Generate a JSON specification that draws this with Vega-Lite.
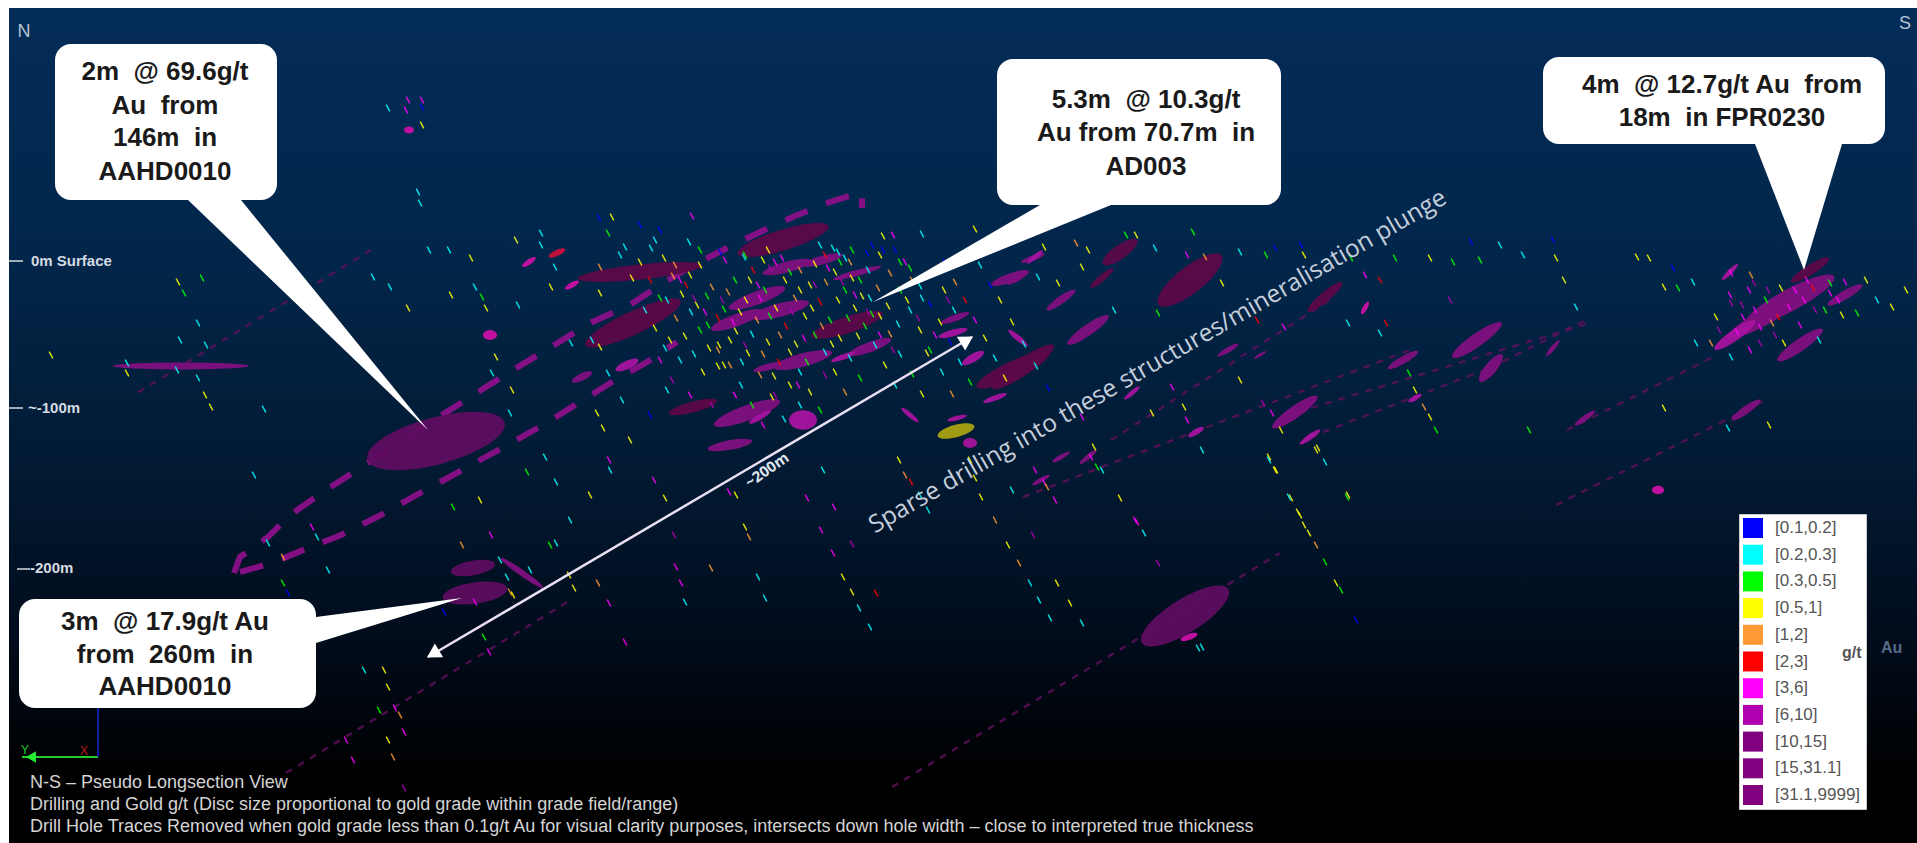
{"$schema":"https://vega.github.io/schema/vega-lite/v6.json","width":1917,"height":843,"padding":0,"autosize":{"type":"none"},"background":"white","config":{"view":{"stroke":null}},
"datasets":{
"frame":[{"x":9,"x2":1917,"y":8,"y2":843}],
"traces":[{"x":371,"y":250,"x2":137,"y2":393},{"x":892,"y":787,"x2":1280,"y2":553},{"x":286,"y":773,"x2":571,"y2":600},{"x":1556,"y":505,"x2":1766,"y2":400},{"x":1567,"y":430,"x2":1713,"y2":357},{"x":1023,"y":497,"x2":1410,"y2":350},{"x":1111,"y":440,"x2":1330,"y2":300},{"x":1298,"y":412,"x2":1590,"y2":323},{"x":1310,"y":437,"x2":1503,"y2":363},{"x":1490,"y":368,"x2":1590,"y2":318}],
"plunge":[{"side":"upper","seq":1,"x":234,"y":573},{"side":"upper","seq":2,"x":240,"y":557},{"side":"upper","seq":3,"x":268,"y":537},{"side":"upper","seq":4,"x":290,"y":515},{"side":"upper","seq":5,"x":326,"y":490},{"side":"upper","seq":6,"x":357,"y":470},{"side":"upper","seq":7,"x":453,"y":408},{"side":"upper","seq":8,"x":486,"y":387},{"side":"upper","seq":9,"x":518,"y":367},{"side":"upper","seq":10,"x":551,"y":347},{"side":"upper","seq":11,"x":590,"y":323},{"side":"upper","seq":12,"x":630,"y":305},{"side":"upper","seq":13,"x":660,"y":285},{"side":"upper","seq":14,"x":690,"y":267},{"side":"upper","seq":15,"x":727,"y":248},{"side":"upper","seq":16,"x":760,"y":232},{"side":"upper","seq":17,"x":795,"y":216},{"side":"upper","seq":18,"x":830,"y":202},{"side":"upper","seq":19,"x":862,"y":192},{"side":"upper","seq":20,"x":862,"y":208},{"side":"lower","seq":1,"x":240,"y":572},{"side":"lower","seq":2,"x":272,"y":563},{"side":"lower","seq":3,"x":308,"y":548},{"side":"lower","seq":4,"x":341,"y":535},{"side":"lower","seq":5,"x":377,"y":517},{"side":"lower","seq":6,"x":411,"y":498},{"side":"lower","seq":7,"x":444,"y":480},{"side":"lower","seq":8,"x":480,"y":460},{"side":"lower","seq":9,"x":513,"y":442},{"side":"lower","seq":10,"x":548,"y":422},{"side":"lower","seq":11,"x":580,"y":402},{"side":"lower","seq":12,"x":612,"y":382},{"side":"lower","seq":13,"x":647,"y":362},{"side":"lower","seq":14,"x":677,"y":342}],
"discs":[
{"x":436,"y":441,"len":142,"form":"wide","tilt":-15,"tone":"dark"},{"x":1185,"y":616,"len":102,"form":"wide","tilt":-32,"tone":"dark"},{"x":475,"y":593,"len":65,"form":"wide","tilt":-8,"tone":"dark"},{"x":473,"y":568,"len":45,"form":"wide","tilt":-10,"tone":"dark"},{"x":522,"y":573,"len":52,"form":"thin","tilt":35,"tone":"purple"},{"x":956,"y":431,"len":38,"form":"wide","tilt":-15,"tone":"olive"},
{"x":181,"y":366,"len":136,"form":"hair","tilt":0,"tone":"purple"},{"x":783,"y":240,"len":95,"form":"flat","tilt":-17,"tone":"maroon"},{"x":640,"y":272,"len":125,"form":"thin","tilt":-6,"tone":"maroon"},{"x":633,"y":323,"len":105,"form":"flat","tilt":-25,"tone":"maroon"},{"x":847,"y":325,"len":75,"form":"flat","tilt":-18,"tone":"maroon"},{"x":1013,"y":370,"len":80,"form":"flat","tilt":-25,"tone":"maroon"},{"x":1190,"y":280,"len":80,"form":"wide","tilt":-38,"tone":"maroon"},{"x":1120,"y":252,"len":42,"form":"wide","tilt":-35,"tone":"maroon"},{"x":1023,"y":367,"len":75,"form":"flat","tilt":-35,"tone":"maroon"},
{"x":757,"y":298,"len":60,"form":"flat","tilt":-20,"tone":"purple"},{"x":737,"y":320,"len":55,"form":"flat","tilt":-20,"tone":"purple"},{"x":787,"y":267,"len":50,"form":"flat","tilt":-15,"tone":"purple"},{"x":823,"y":260,"len":40,"form":"flat","tilt":-15,"tone":"purple"},{"x":857,"y":273,"len":50,"form":"thin","tilt":-15,"tone":"purple"},{"x":780,"y":310,"len":60,"form":"flat","tilt":-15,"tone":"purple"},{"x":803,"y":360,"len":60,"form":"flat","tilt":-15,"tone":"purple"},{"x":803,"y":420,"len":28,"form":"round","tilt":0,"tone":"magenta"},{"x":747,"y":413,"len":70,"form":"flat","tilt":-20,"tone":"purple"},{"x":693,"y":407,"len":50,"form":"flat","tilt":-15,"tone":"maroon"},{"x":730,"y":445,"len":45,"form":"flat","tilt":-10,"tone":"purple"},{"x":760,"y":417,"len":25,"form":"flat","tilt":-30,"tone":"magenta"},{"x":582,"y":377,"len":22,"form":"wide","tilt":-25,"tone":"purple"},{"x":627,"y":365,"len":25,"form":"wide","tilt":-25,"tone":"magenta"},{"x":953,"y":333,"len":30,"form":"flat","tilt":-15,"tone":"magenta"},{"x":955,"y":318,"len":30,"form":"flat","tilt":-20,"tone":"purple"},{"x":995,"y":398,"len":25,"form":"flat","tilt":-20,"tone":"magenta"},{"x":957,"y":418,"len":20,"form":"flat","tilt":-15,"tone":"magenta"},{"x":1010,"y":278,"len":40,"form":"flat","tilt":-20,"tone":"purple"},{"x":1033,"y":258,"len":25,"form":"flat","tilt":-20,"tone":"purple"},{"x":970,"y":443,"len":14,"form":"round","tilt":0,"tone":"magenta"},{"x":870,"y":347,"len":45,"form":"flat","tilt":-20,"tone":"purple"},{"x":843,"y":357,"len":25,"form":"flat","tilt":-20,"tone":"magenta"},{"x":768,"y":367,"len":30,"form":"flat","tilt":-15,"tone":"purple"},{"x":973,"y":358,"len":25,"form":"wide","tilt":-30,"tone":"magenta"},{"x":1018,"y":338,"len":25,"form":"flat","tilt":40,"tone":"magenta"},{"x":910,"y":415,"len":22,"form":"flat","tilt":40,"tone":"magenta"},{"x":557,"y":253,"len":18,"form":"wide","tilt":-25,"tone":"red"},{"x":529,"y":262,"len":16,"form":"wide","tilt":-35,"tone":"hot"},{"x":572,"y":285,"len":16,"form":"wide","tilt":-30,"tone":"hot"},{"x":490,"y":335,"len":14,"form":"round","tilt":0,"tone":"hot"},{"x":409,"y":130,"len":10,"form":"round","tilt":0,"tone":"hot"},
{"x":1102,"y":278,"len":30,"form":"flat","tilt":-40,"tone":"maroon"},{"x":1018,"y":278,"len":25,"form":"flat","tilt":-30,"tone":"purple"},{"x":1035,"y":257,"len":20,"form":"flat","tilt":-40,"tone":"magenta"},{"x":1061,"y":300,"len":35,"form":"flat","tilt":-35,"tone":"purple"},{"x":1088,"y":330,"len":50,"form":"flat","tilt":-35,"tone":"purple"},{"x":1325,"y":297,"len":45,"form":"flat","tilt":-40,"tone":"maroon"},{"x":1365,"y":308,"len":14,"form":"wide","tilt":-60,"tone":"hot"},{"x":1228,"y":350,"len":24,"form":"flat","tilt":-30,"tone":"purple"},{"x":1260,"y":355,"len":14,"form":"flat","tilt":-30,"tone":"purple"},{"x":1477,"y":340,"len":60,"form":"flat","tilt":-35,"tone":"purple"},{"x":1403,"y":360,"len":35,"form":"flat","tilt":-30,"tone":"purple"},{"x":1491,"y":368,"len":35,"form":"wide","tilt":-50,"tone":"purple"},{"x":1553,"y":348,"len":20,"form":"flat","tilt":-50,"tone":"purple"},{"x":1295,"y":412,"len":55,"form":"flat","tilt":-35,"tone":"purple"},{"x":1310,"y":437,"len":25,"form":"flat","tilt":-35,"tone":"magenta"},{"x":1415,"y":398,"len":15,"form":"wide","tilt":-30,"tone":"magenta"},{"x":1585,"y":418,"len":25,"form":"flat","tilt":-35,"tone":"purple"},{"x":1746,"y":410,"len":35,"form":"flat","tilt":-35,"tone":"purple"},{"x":1658,"y":490,"len":12,"form":"round","tilt":0,"tone":"hot"},{"x":1196,"y":432,"len":18,"form":"wide","tilt":-30,"tone":"magenta"},{"x":1132,"y":393,"len":20,"form":"flat","tilt":-40,"tone":"magenta"},{"x":1061,"y":457,"len":20,"form":"flat","tilt":-30,"tone":"purple"},{"x":1088,"y":457,"len":22,"form":"flat","tilt":-40,"tone":"purple"},{"x":1041,"y":480,"len":20,"form":"flat","tilt":-30,"tone":"purple"},
{"x":1810,"y":270,"len":45,"form":"flat","tilt":-32,"tone":"maroon"},{"x":1790,"y":300,"len":100,"form":"flat","tilt":-28,"tone":"purple"},{"x":1760,"y":320,"len":70,"form":"flat","tilt":-28,"tone":"purple"},{"x":1800,"y":345,"len":55,"form":"flat","tilt":-35,"tone":"purple"},{"x":1735,"y":335,"len":50,"form":"flat","tilt":-35,"tone":"magenta"},{"x":1845,"y":295,"len":40,"form":"flat","tilt":-30,"tone":"purple"},{"x":1730,"y":272,"len":22,"form":"flat","tilt":-45,"tone":"magenta"},{"x":1189,"y":637,"len":18,"form":"wide","tilt":-20,"tone":"hot"}
],
"ticks":[
{"x":408,"y":100,"g":"[3,6]"},{"x":406,"y":110,"g":"[3,6]"},{"x":422,"y":100,"g":"[3,6]"},{"x":422,"y":107,"g":"[0.1,0.2]"},{"x":422,"y":125,"g":"[0.5,1]"},{"x":388,"y":108,"g":"[0.2,0.3]"},{"x":178,"y":282,"g":"[0.5,1]"},{"x":184,"y":293,"g":"[0.3,0.5]"},{"x":202,"y":278,"g":"[0.3,0.5]"},{"x":51,"y":355,"g":"[0.5,1]"},{"x":127,"y":363,"g":"[0.2,0.3]"},{"x":127,"y":373,"g":"[0.5,1]"},{"x":177,"y":370,"g":"[0.2,0.3]"},{"x":198,"y":378,"g":"[0.2,0.3]"},{"x":205,"y":395,"g":"[0.5,1]"},{"x":211,"y":407,"g":"[0.5,1]"},{"x":264,"y":409,"g":"[0.2,0.3]"},{"x":198,"y":323,"g":"[0.2,0.3]"},{"x":180,"y":340,"g":"[0.2,0.3]"},{"x":206,"y":345,"g":"[0.2,0.3]"},{"x":408,"y":308,"g":"[0.5,1]"},{"x":451,"y":295,"g":"[0.5,1]"},{"x":482,"y":297,"g":"[0.3,0.5]"},{"x":486,"y":308,"g":"[0.5,1]"},{"x":475,"y":287,"g":"[0.2,0.3]"},{"x":471,"y":258,"g":"[0.5,1]"},{"x":429,"y":250,"g":"[0.2,0.3]"},{"x":449,"y":250,"g":"[0.2,0.3]"},{"x":418,"y":192,"g":"[0.2,0.3]"},{"x":420,"y":203,"g":"[0.2,0.3]"},{"x":373,"y":277,"g":"[0.2,0.3]"},{"x":390,"y":287,"g":"[0.2,0.3]"},{"x":612,"y":217,"g":"[0.5,1]"},{"x":541,"y":233,"g":"[0.2,0.3]"},{"x":541,"y":245,"g":"[0.2,0.3]"},{"x":516,"y":240,"g":"[0.5,1]"},{"x":608,"y":233,"g":"[0.3,0.5]"},{"x":625,"y":247,"g":"[0.2,0.3]"},{"x":600,"y":293,"g":"[0.5,1]"},{"x":600,"y":267,"g":"[1,2]"},{"x":551,"y":287,"g":"[0.5,1]"},{"x":555,"y":267,"g":"[0.2,0.3]"},{"x":518,"y":305,"g":"[0.2,0.3]"},{"x":496,"y":357,"g":"[0.5,1]"},{"x":492,"y":373,"g":"[0.2,0.3]"},{"x":592,"y":340,"g":"[0.2,0.3]"},{"x":600,"y":347,"g":"[0.5,1]"},{"x":608,"y":373,"g":"[0.2,0.3]"},{"x":622,"y":400,"g":"[0.2,0.3]"},{"x":512,"y":390,"g":"[0.5,1]"},{"x":510,"y":413,"g":"[0.2,0.3]"},{"x":571,"y":343,"g":"[0.2,0.3]"},
{"x":599,"y":218,"g":"[0.1,0.2]"},{"x":651,"y":248,"g":"[0.2,0.3]"},{"x":689,"y":242,"g":"[0.2,0.3]"},{"x":700,"y":250,"g":"[0.3,0.5]"},{"x":692,"y":216,"g":"[3,6]"},{"x":744,"y":257,"g":"[0.2,0.3]"},{"x":763,"y":260,"g":"[0.5,1]"},{"x":753,"y":270,"g":"[2,3]"},{"x":833,"y":248,"g":"[0.2,0.3]"},{"x":845,"y":258,"g":"[0.2,0.3]"},{"x":883,"y":236,"g":"[0.5,1]"},{"x":893,"y":235,"g":"[3,6]"},{"x":922,"y":234,"g":"[0.2,0.3]"},{"x":975,"y":229,"g":"[0.5,1]"},{"x":907,"y":300,"g":"[0.5,1]"},{"x":927,"y":353,"g":"[0.5,1]"},{"x":883,"y":250,"g":"[0.1,0.2]"},{"x":867,"y":253,"g":"[0.1,0.2]"},
{"x":655,"y":240,"g":"[0.2,0.3]"},{"x":664,"y":258,"g":"[0.5,1]"},{"x":673,"y":276,"g":"[1,2]"},{"x":682,"y":294,"g":"[0.5,1]"},{"x":691,"y":312,"g":"[0.2,0.3]"},{"x":700,"y":330,"g":"[0.3,0.5]"},{"x":709,"y":348,"g":"[0.5,1]"},{"x":718,"y":366,"g":"[0.5,1]"},{"x":675,"y":265,"g":"[1,2]"},{"x":686,"y":285,"g":"[2,3]"},{"x":697,"y":305,"g":"[0.5,1]"},{"x":708,"y":325,"g":"[0.3,0.5]"},{"x":719,"y":345,"g":"[0.5,1]"},{"x":730,"y":365,"g":"[1,2]"},{"x":741,"y":385,"g":"[0.2,0.3]"},{"x":752,"y":405,"g":"[0.3,0.5]"},{"x":763,"y":425,"g":"[3,6]"},{"x":700,"y":265,"g":"[0.5,1]"},{"x":712,"y":287,"g":"[1,2]"},{"x":724,"y":309,"g":"[0.3,0.5]"},{"x":736,"y":331,"g":"[0.5,1]"},{"x":748,"y":353,"g":"[0.5,1]"},{"x":760,"y":375,"g":"[1,2]"},{"x":772,"y":397,"g":"[0.5,1]"},{"x":784,"y":419,"g":"[0.2,0.3]"},{"x":725,"y":260,"g":"[3,6]"},{"x":735,"y":280,"g":"[0.3,0.5]"},{"x":746,"y":300,"g":"[0.5,1]"},{"x":757,"y":320,"g":"[1,2]"},{"x":768,"y":342,"g":"[0.5,1]"},{"x":779,"y":362,"g":"[2,3]"},{"x":790,"y":385,"g":"[0.5,1]"},{"x":800,"y":405,"g":"[0.2,0.3]"},{"x":750,"y":280,"g":"[0.5,1]"},{"x":760,"y":298,"g":"[3,6]"},{"x":770,"y":316,"g":"[0.3,0.5]"},{"x":780,"y":335,"g":"[1,2]"},{"x":790,"y":352,"g":"[0.5,1]"},{"x":800,"y":372,"g":"[0.2,0.3]"},{"x":810,"y":392,"g":"[0.5,1]"},{"x":820,"y":410,"g":"[0.3,0.5]"},{"x":775,"y":262,"g":"[3,6]"},{"x":785,"y":280,"g":"[0.5,1]"},{"x":795,"y":298,"g":"[1,2]"},{"x":805,"y":316,"g":"[0.5,1]"},{"x":815,"y":335,"g":"[0.3,0.5]"},{"x":825,"y":352,"g":"[0.2,0.3]"},{"x":835,"y":372,"g":"[0.5,1]"},{"x":845,"y":392,"g":"[1,2]"},{"x":800,"y":270,"g":"[1,2]"},{"x":810,"y":285,"g":"[0.5,1]"},{"x":820,"y":302,"g":"[2,3]"},{"x":830,"y":320,"g":"[0.3,0.5]"},{"x":840,"y":338,"g":"[0.5,1]"},{"x":850,"y":358,"g":"[0.2,0.3]"},{"x":860,"y":378,"g":"[0.3,0.5]"},{"x":825,"y":255,"g":"[2,3]"},{"x":835,"y":272,"g":"[0.5,1]"},{"x":845,"y":290,"g":"[0.3,0.5]"},{"x":855,"y":308,"g":"[0.5,1]"},{"x":865,"y":326,"g":"[0.3,0.5]"},{"x":875,"y":345,"g":"[0.2,0.3]"},{"x":885,"y":365,"g":"[0.5,1]"},{"x":895,"y":385,"g":"[0.2,0.3]"},{"x":850,"y":262,"g":"[1,2]"},{"x":860,"y":280,"g":"[0.3,0.5]"},{"x":870,"y":298,"g":"[0.2,0.3]"},{"x":880,"y":316,"g":"[0.5,1]"},{"x":890,"y":334,"g":"[1,2]"},{"x":900,"y":354,"g":"[0.2,0.3]"},{"x":912,"y":374,"g":"[0.3,0.5]"},{"x":922,"y":394,"g":"[0.5,1]"},{"x":880,"y":255,"g":"[0.5,1]"},{"x":890,"y":273,"g":"[1,2]"},{"x":900,"y":290,"g":"[0.3,0.5]"},{"x":910,"y":310,"g":"[0.2,0.3]"},{"x":920,"y":330,"g":"[0.5,1]"},{"x":930,"y":350,"g":"[0.3,0.5]"},{"x":942,"y":372,"g":"[0.2,0.3]"},{"x":952,"y":394,"g":"[1,2]"},{"x":910,"y":268,"g":"[0.3,0.5]"},{"x":920,"y":286,"g":"[0.2,0.3]"},{"x":930,"y":304,"g":"[0.1,0.2]"},{"x":940,"y":322,"g":"[0.5,1]"},{"x":950,"y":342,"g":"[0.1,0.2]"},{"x":960,"y":362,"g":"[0.2,0.3]"},{"x":970,"y":382,"g":"[0.3,0.5]"},{"x":945,"y":262,"g":"[0.1,0.2]"},{"x":955,"y":282,"g":"[1,2]"},{"x":965,"y":300,"g":"[2,3]"},{"x":975,"y":320,"g":"[3,6]"},{"x":985,"y":338,"g":"[0.5,1]"},{"x":995,"y":358,"g":"[0.2,0.3]"},{"x":1005,"y":378,"g":"[0.5,1]"},{"x":980,"y":265,"g":"[0.2,0.3]"},{"x":990,"y":285,"g":"[0.1,0.2]"},{"x":1000,"y":300,"g":"[0.5,1]"},{"x":1012,"y":322,"g":"[0.5,1]"},{"x":1024,"y":344,"g":"[0.2,0.3]"},{"x":1036,"y":366,"g":"[0.2,0.3]"},{"x":1048,"y":388,"g":"[0.1,0.2]"},
{"x":667,"y":300,"g":"[0.2,0.3]"},{"x":676,"y":318,"g":"[1,2]"},{"x":685,"y":336,"g":"[0.5,1]"},{"x":694,"y":354,"g":"[0.2,0.3]"},{"x":703,"y":372,"g":"[0.5,1]"},{"x":690,"y":275,"g":"[0.5,1]"},{"x":707,"y":296,"g":"[0.3,0.5]"},{"x":718,"y":318,"g":"[2,3]"},{"x":730,"y":340,"g":"[0.5,1]"},{"x":742,"y":362,"g":"[0.2,0.3]"},{"x":728,"y":292,"g":"[1,2]"},{"x":740,"y":312,"g":"[0.5,1]"},{"x":752,"y":334,"g":"[0.2,0.3]"},{"x":763,"y":354,"g":"[1,2]"},{"x":774,"y":376,"g":"[0.5,1]"},{"x":765,"y":290,"g":"[0.3,0.5]"},{"x":776,"y":308,"g":"[0.5,1]"},{"x":786,"y":326,"g":"[2,3]"},{"x":796,"y":344,"g":"[0.5,1]"},{"x":807,"y":362,"g":"[0.3,0.5]"},{"x":790,"y":272,"g":"[0.3,0.5]"},{"x":800,"y":290,"g":"[0.5,1]"},{"x":812,"y":308,"g":"[0.5,1]"},{"x":822,"y":326,"g":"[1,2]"},{"x":832,"y":344,"g":"[0.5,1]"},{"x":815,"y":264,"g":"[0.5,1]"},{"x":826,"y":282,"g":"[1,2]"},{"x":838,"y":300,"g":"[0.5,1]"},{"x":848,"y":318,"g":"[0.3,0.5]"},{"x":858,"y":336,"g":"[0.5,1]"},{"x":840,"y":262,"g":"[0.3,0.5]"},{"x":852,"y":278,"g":"[0.5,1]"},{"x":862,"y":296,"g":"[0.5,1]"},{"x":872,"y":314,"g":"[0.3,0.5]"},{"x":868,"y":270,"g":"[0.2,0.3]"},{"x":878,"y":288,"g":"[1,2]"},{"x":888,"y":306,"g":"[0.5,1]"},{"x":898,"y":324,"g":"[0.2,0.3]"},{"x":900,"y":262,"g":"[0.3,0.5]"},{"x":912,"y":280,"g":"[1,2]"},{"x":922,"y":298,"g":"[0.2,0.3]"},{"x":934,"y":272,"g":"[1,2]"},{"x":944,"y":290,"g":"[0.5,1]"},{"x":954,"y":310,"g":"[0.2,0.3]"},{"x":640,"y":262,"g":"[0.5,1]"},{"x":650,"y":280,"g":"[2,3]"},{"x":660,"y":298,"g":"[0.3,0.5]"},{"x":670,"y":340,"g":"[0.5,1]"},{"x":680,"y":360,"g":"[0.2,0.3]"},{"x":620,"y":255,"g":"[0.2,0.3]"},{"x":632,"y":278,"g":"[0.5,1]"},{"x":645,"y":310,"g":"[0.2,0.3]"},{"x":655,"y":328,"g":"[0.5,1]"},{"x":665,"y":348,"g":"[0.2,0.3]"},
{"x":680,"y":280,"g":"[3,6]"},{"x":694,"y":298,"g":"[6,10]"},{"x":705,"y":312,"g":"[3,6]"},{"x":722,"y":300,"g":"[6,10]"},{"x":733,"y":322,"g":"[3,6]"},{"x":745,"y":345,"g":"[6,10]"},{"x":758,"y":285,"g":"[3,6]"},{"x":770,"y":268,"g":"[6,10]"},{"x":782,"y":258,"g":"[3,6]"},{"x":792,"y":312,"g":"[6,10]"},{"x":804,"y":338,"g":"[3,6]"},{"x":815,"y":285,"g":"[6,10]"},{"x":828,"y":268,"g":"[3,6]"},{"x":842,"y":282,"g":"[6,10]"},{"x":855,"y":295,"g":"[3,6]"},{"x":868,"y":312,"g":"[6,10]"},{"x":880,"y":335,"g":"[3,6]"},{"x":893,"y":350,"g":"[6,10]"},{"x":905,"y":262,"g":"[3,6]"},{"x":918,"y":318,"g":"[6,10]"},{"x":935,"y":335,"g":"[3,6]"},{"x":948,"y":300,"g":"[6,10]"},{"x":660,"y":360,"g":"[3,6]"},{"x":672,"y":380,"g":"[6,10]"},{"x":690,"y":395,"g":"[3,6]"},{"x":712,"y":405,"g":"[6,10]"},{"x":735,"y":395,"g":"[3,6]"},{"x":775,"y":395,"g":"[6,10]"},{"x":798,"y":385,"g":"[3,6]"},{"x":825,"y":375,"g":"[6,10]"},{"x":745,"y":255,"g":"[0.3,0.5]"},{"x":768,"y":250,"g":"[0.5,1]"},{"x":820,"y":245,"g":"[0.2,0.3]"},{"x":838,"y":252,"g":"[0.2,0.3]"},{"x":852,"y":250,"g":"[0.3,0.5]"},{"x":872,"y":245,"g":"[0.1,0.2]"},{"x":895,"y":250,"g":"[0.1,0.2]"},{"x":720,"y":252,"g":"[0.1,0.2]"},{"x":660,"y":230,"g":"[0.1,0.2]"},{"x":640,"y":225,"g":"[0.1,0.2]"},{"x":1730,"y":295,"g":"[3,6]"},{"x":1742,"y":305,"g":"[6,10]"},{"x":1755,"y":310,"g":"[3,6]"},{"x":1768,"y":290,"g":"[6,10]"},{"x":1795,"y":290,"g":"[3,6]"},{"x":1815,"y":310,"g":"[6,10]"},{"x":1800,"y":325,"g":"[3,6]"},{"x":1775,"y":335,"g":"[6,10]"},{"x":1750,"y":350,"g":"[3,6]"},{"x":1838,"y":300,"g":"[3,6]"},
{"x":718,"y":350,"g":"[1,2]"},{"x":724,"y":365,"g":"[0.5,1]"},{"x":597,"y":413,"g":"[0.5,1]"},{"x":603,"y":428,"g":"[0.5,1]"},{"x":510,"y":592,"g":"[1,2]"},{"x":530,"y":570,"g":"[0.2,0.3]"},{"x":550,"y":545,"g":"[0.3,0.5]"},{"x":570,"y":520,"g":"[0.2,0.3]"},{"x":590,"y":495,"g":"[0.5,1]"},{"x":610,"y":470,"g":"[0.2,0.3]"},{"x":630,"y":440,"g":"[0.5,1]"},{"x":650,"y":415,"g":"[0.1,0.2]"},{"x":667,"y":390,"g":"[0.2,0.3]"},
{"x":899,"y":460,"g":"[0.5,1]"},{"x":905,"y":475,"g":"[1,2]"},{"x":911,"y":482,"g":"[2,3]"},{"x":920,"y":495,"g":"[0.2,0.3]"},{"x":928,"y":510,"g":"[0.2,0.3]"},{"x":970,"y":460,"g":"[0.5,1]"},{"x":975,"y":478,"g":"[0.5,1]"},{"x":981,"y":497,"g":"[0.5,1]"},{"x":995,"y":520,"g":"[1,2]"},{"x":1008,"y":545,"g":"[0.5,1]"},{"x":1019,"y":563,"g":"[1,2]"},{"x":1030,"y":583,"g":"[0.2,0.3]"},{"x":1039,"y":600,"g":"[0.2,0.3]"},{"x":1050,"y":618,"g":"[0.2,0.3]"},{"x":1057,"y":583,"g":"[0.5,1]"},{"x":1070,"y":603,"g":"[0.5,1]"},{"x":1082,"y":623,"g":"[0.2,0.3]"},{"x":1035,"y":470,"g":"[3,6]"},{"x":1044,"y":482,"g":"[3,6]"},{"x":1055,"y":500,"g":"[3,6]"},{"x":1091,"y":457,"g":"[3,6]"},{"x":1097,"y":467,"g":"[0.3,0.5]"},{"x":1120,"y":498,"g":"[0.5,1]"},{"x":1135,"y":520,"g":"[3,6]"},{"x":1144,"y":533,"g":"[0.2,0.3]"},{"x":1158,"y":563,"g":"[6,10]"},{"x":1269,"y":457,"g":"[0.5,1]"},{"x":1276,"y":470,"g":"[0.5,1]"},{"x":1291,"y":498,"g":"[0.5,1]"},{"x":1300,"y":515,"g":"[0.5,1]"},{"x":1309,"y":533,"g":"[0.5,1]"},{"x":1316,"y":545,"g":"[1,2]"},{"x":1325,"y":562,"g":"[0.3,0.5]"},{"x":1336,"y":583,"g":"[0.5,1]"},{"x":1341,"y":590,"g":"[0.3,0.5]"},{"x":1347,"y":497,"g":"[0.3,0.5]"},{"x":1356,"y":620,"g":"[0.1,0.2]"},{"x":1318,"y":448,"g":"[0.5,1]"},{"x":1325,"y":462,"g":"[0.2,0.3]"},{"x":807,"y":498,"g":"[3,6]"},{"x":821,"y":530,"g":"[3,6]"},{"x":833,"y":553,"g":"[3,6]"},{"x":852,"y":544,"g":"[6,10]"},{"x":834,"y":507,"g":"[3,6]"},{"x":843,"y":577,"g":"[0.5,1]"},{"x":852,"y":592,"g":"[0.5,1]"},{"x":876,"y":593,"g":"[2,3]"},{"x":859,"y":608,"g":"[0.2,0.3]"},{"x":870,"y":627,"g":"[0.2,0.3]"},{"x":758,"y":577,"g":"[0.2,0.3]"},{"x":765,"y":598,"g":"[0.2,0.3]"},{"x":711,"y":568,"g":"[1,2]"},{"x":749,"y":537,"g":"[1,2]"},{"x":745,"y":527,"g":"[0.5,1]"},{"x":729,"y":492,"g":"[3,6]"},{"x":736,"y":495,"g":"[0.5,1]"},{"x":823,"y":470,"g":"[0.2,0.3]"},{"x":1198,"y":648,"g":"[0.2,0.3]"},{"x":1202,"y":647,"g":"[0.2,0.3]"},{"x":1033,"y":535,"g":"[6,10]"},
{"x":1553,"y":240,"g":"[0.1,0.2]"},{"x":1556,"y":258,"g":"[0.5,1]"},{"x":1564,"y":280,"g":"[0.5,1]"},{"x":1576,"y":307,"g":"[0.2,0.3]"},{"x":1395,"y":258,"g":"[0.3,0.5]"},{"x":1471,"y":242,"g":"[0.1,0.2]"},{"x":1480,"y":260,"g":"[0.3,0.5]"},{"x":1453,"y":262,"g":"[0.3,0.5]"},{"x":1430,"y":258,"g":"[0.5,1]"},{"x":1500,"y":245,"g":"[0.2,0.3]"},{"x":1523,"y":255,"g":"[0.2,0.3]"},{"x":1637,"y":257,"g":"[0.5,1]"},{"x":1649,"y":258,"g":"[0.5,1]"},{"x":1673,"y":268,"g":"[0.1,0.2]"},{"x":1664,"y":287,"g":"[0.5,1]"},{"x":1678,"y":288,"g":"[0.3,0.5]"},{"x":1693,"y":282,"g":"[0.2,0.3]"},{"x":1866,"y":280,"g":"[0.5,1]"},{"x":1877,"y":300,"g":"[0.2,0.3]"},{"x":1892,"y":307,"g":"[0.5,1]"},{"x":1906,"y":290,"g":"[0.5,1]"},{"x":1857,"y":313,"g":"[0.3,0.5]"},
{"x":1731,"y":273,"g":"[3,6]"},{"x":1754,"y":283,"g":"[6,10]"},{"x":1751,"y":275,"g":"[1,2]"},{"x":1731,"y":303,"g":"[6,10]"},{"x":1766,"y":300,"g":"[0.3,0.5]"},{"x":1807,"y":280,"g":"[3,6]"},{"x":1813,"y":288,"g":"[2,3]"},{"x":1830,"y":293,"g":"[3,6]"},{"x":1845,"y":282,"g":"[3,6]"},{"x":1842,"y":315,"g":"[0.5,1]"},{"x":1825,"y":310,"g":"[0.3,0.5]"},{"x":1789,"y":307,"g":"[3,6]"},{"x":1772,"y":323,"g":"[1,2]"},{"x":1737,"y":332,"g":"[3,6]"},{"x":1719,"y":330,"g":"[6,10]"},{"x":1711,"y":343,"g":"[1,2]"},{"x":1743,"y":317,"g":"[3,6]"},{"x":1760,"y":343,"g":"[6,10]"},{"x":1784,"y":343,"g":"[0.5,1]"},{"x":1819,"y":340,"g":"[0.2,0.3]"},{"x":1731,"y":357,"g":"[0.2,0.3]"},{"x":1716,"y":317,"g":"[0.5,1]"},{"x":1696,"y":343,"g":"[0.2,0.3]"},{"x":1830,"y":283,"g":"[0.3,0.5]"},{"x":1781,"y":288,"g":"[0.5,1]"},{"x":1749,"y":290,"g":"[3,6]"},{"x":1760,"y":327,"g":"[3,6]"},{"x":1804,"y":300,"g":"[3,6]"},{"x":1778,"y":317,"g":"[2,3]"},
{"x":1155,"y":248,"g":"[0.2,0.3]"},{"x":1187,"y":255,"g":"[3,6]"},{"x":1205,"y":257,"g":"[1,2]"},{"x":1240,"y":252,"g":"[0.2,0.3]"},{"x":1266,"y":255,"g":"[0.3,0.5]"},{"x":1275,"y":248,"g":"[0.1,0.2]"},{"x":1301,"y":245,"g":"[0.1,0.2]"},{"x":1304,"y":255,"g":"[0.5,1]"},{"x":1351,"y":258,"g":"[0.3,0.5]"},{"x":1365,"y":275,"g":"[3,6]"},{"x":1380,"y":280,"g":"[2,3]"},{"x":1126,"y":235,"g":"[0.3,0.5]"},{"x":1136,"y":235,"g":"[0.5,1]"},{"x":1076,"y":243,"g":"[1,2]"},{"x":1088,"y":250,"g":"[0.5,1]"},{"x":1044,"y":247,"g":"[0.5,1]"},{"x":1193,"y":232,"g":"[0.3,0.5]"},{"x":1058,"y":283,"g":"[0.5,1]"},{"x":1038,"y":277,"g":"[0.2,0.3]"},{"x":1082,"y":267,"g":"[0.5,1]"},{"x":1114,"y":310,"g":"[0.2,0.3]"},{"x":1158,"y":313,"g":"[0.3,0.5]"},{"x":1222,"y":283,"g":"[0.5,1]"},{"x":1257,"y":320,"g":"[2,3]"},{"x":1284,"y":327,"g":"[3,6]"},{"x":1348,"y":323,"g":"[0.2,0.3]"},{"x":1380,"y":333,"g":"[0.2,0.3]"},{"x":1386,"y":323,"g":"[2,3]"},{"x":1450,"y":300,"g":"[6,10]"},{"x":1152,"y":413,"g":"[0.5,1]"},{"x":1172,"y":387,"g":"[3,6]"},{"x":1184,"y":407,"g":"[0.5,1]"},{"x":1187,"y":420,"g":"[3,6]"},{"x":1202,"y":450,"g":"[0.2,0.3]"},{"x":1240,"y":380,"g":"[0.5,1]"},{"x":1263,"y":403,"g":"[6,10]"},{"x":1272,"y":413,"g":"[3,6]"},{"x":1281,"y":430,"g":"[0.5,1]"},{"x":1316,"y":450,"g":"[0.5,1]"},{"x":1269,"y":460,"g":"[0.2,0.3]"},{"x":1275,"y":470,"g":"[0.5,1]"},{"x":1409,"y":373,"g":"[0.3,0.5]"},{"x":1415,"y":390,"g":"[0.5,1]"},{"x":1424,"y":407,"g":"[1,2]"},{"x":1430,"y":417,"g":"[0.5,1]"},{"x":1436,"y":430,"g":"[0.3,0.5]"},{"x":1529,"y":430,"g":"[0.3,0.5]"},{"x":1664,"y":408,"g":"[0.5,1]"},{"x":1769,"y":425,"g":"[0.5,1]"},{"x":1728,"y":428,"g":"[0.2,0.3]"},{"x":1082,"y":417,"g":"[3,6]"},{"x":1094,"y":447,"g":"[0.5,1]"},{"x":1102,"y":470,"g":"[0.2,0.3]"},{"x":1047,"y":487,"g":"[1,2]"},{"x":1012,"y":490,"g":"[0.2,0.3]"},{"x":1137,"y":522,"g":"[3,6]"},{"x":1289,"y":497,"g":"[0.2,0.3]"},{"x":1298,"y":512,"g":"[0.5,1]"},{"x":1304,"y":525,"g":"[0.5,1]"},{"x":1348,"y":495,"g":"[0.5,1]"},
{"x":654,"y":480,"g":"[3,6]"},{"x":665,"y":498,"g":"[0.5,1]"},{"x":674,"y":535,"g":"[6,10]"},{"x":676,"y":567,"g":"[3,6]"},{"x":681,"y":583,"g":"[3,6]"},{"x":685,"y":602,"g":"[0.2,0.3]"},{"x":598,"y":583,"g":"[1,2]"},{"x":609,"y":603,"g":"[3,6]"},{"x":625,"y":642,"g":"[3,6]"},{"x":491,"y":535,"g":"[3,6]"},{"x":462,"y":545,"g":"[1,2]"},{"x":500,"y":560,"g":"[0.2,0.3]"},{"x":507,"y":577,"g":"[0.2,0.3]"},{"x":513,"y":595,"g":"[0.5,1]"},{"x":475,"y":602,"g":"[3,6]"},{"x":484,"y":637,"g":"[0.3,0.5]"},{"x":489,"y":652,"g":"[3,6]"},{"x":444,"y":612,"g":"[0.1,0.2]"},{"x":556,"y":543,"g":"[0.2,0.3]"},{"x":569,"y":575,"g":"[0.5,1]"},{"x":574,"y":588,"g":"[0.5,1]"},{"x":609,"y":460,"g":"[3,6]"},{"x":395,"y":708,"g":"[3,6]"},{"x":400,"y":715,"g":"[1,2]"},{"x":404,"y":732,"g":"[3,6]"},{"x":384,"y":670,"g":"[0.5,1]"},{"x":388,"y":687,"g":"[0.5,1]"},{"x":379,"y":710,"g":"[0.3,0.5]"},{"x":388,"y":740,"g":"[0.5,1]"},{"x":393,"y":757,"g":"[1,2]"},{"x":404,"y":788,"g":"[6,10]"},{"x":346,"y":740,"g":"[3,6]"},{"x":353,"y":760,"g":"[3,6]"},{"x":364,"y":670,"g":"[0.2,0.3]"},{"x":268,"y":543,"g":"[0.2,0.3]"},{"x":283,"y":557,"g":"[1,2]"},{"x":283,"y":583,"g":"[0.3,0.5]"},{"x":288,"y":593,"g":"[0.1,0.2]"},{"x":312,"y":527,"g":"[3,6]"},{"x":317,"y":537,"g":"[0.2,0.3]"},{"x":328,"y":570,"g":"[0.2,0.3]"},{"x":453,"y":507,"g":"[0.3,0.5]"},{"x":480,"y":500,"g":"[0.5,1]"},{"x":527,"y":472,"g":"[0.3,0.5]"},{"x":556,"y":482,"g":"[0.2,0.3]"},{"x":545,"y":457,"g":"[0.2,0.3]"},{"x":254,"y":475,"g":"[0.2,0.3]"}
],
"tailsH":[{"t":"a","y":200,"x":188,"x2":241},{"t":"a","y":430,"x":428,"x2":428},{"t":"b","y":205,"x":1040,"x2":1111},{"t":"b","y":302,"x":873,"x2":873},{"t":"c","y":144,"x":1755,"x2":1842},{"t":"c","y":270,"x":1804,"x2":1804}],
"tailsV":[{"x":316,"y":617,"y2":643},{"x":462,"y":598,"y2":598}],
"boxes":[{"x":55,"x2":277,"y":44,"y2":200},{"x":997,"x2":1281,"y":59,"y2":205},{"x":1543,"x2":1885,"y":57,"y2":144},{"x":19,"x2":316,"y":599,"y2":708}],
"calloutText":[{"x":165,"y":72,"t":"2m \u00a0@ 69.6g/t"},{"x":165,"y":106,"t":"Au \u00a0from"},{"x":165,"y":138,"t":"146m \u00a0in"},{"x":165,"y":172,"t":"AAHD0010"},{"x":1146,"y":100,"t":"5.3m \u00a0@ 10.3g/t"},{"x":1146,"y":133,"t":"Au from 70.7m \u00a0in"},{"x":1146,"y":167,"t":"AD003"},{"x":1722,"y":85,"t":"4m \u00a0@ 12.7g/t Au \u00a0from"},{"x":1722,"y":118,"t":"18m \u00a0in FPR0230"},{"x":165,"y":622,"t":"3m \u00a0@ 17.9g/t Au"},{"x":165,"y":655,"t":"from \u00a0260m \u00a0in"},{"x":165,"y":687,"t":"AAHD0010"}],
"levels":[{"x":31,"y":261,"t":"0m Surface"},{"x":28,"y":408,"t":"~-100m"},{"x":30,"y":568,"t":"-200m"}],
"levelTicks":[{"x":9,"x2":23,"y":261},{"x":9,"x2":23,"y":408},{"x":17,"x2":30,"y":569}],
"notes":[{"x":30,"y":783,"t":"N-S – Pseudo Longsection View"},{"x":30,"y":805,"t":"Drilling and Gold g/t (Disc size proportional to gold grade within grade field/range)"},{"x":30,"y":827,"t":"Drill Hole Traces Removed when gold grade less than 0.1g/t Au for visual clarity purposes, intersects down hole width – close to interpreted true thickness"}]
},
"layer":[
{"data":{"name":"frame"},"mark":{"type":"rect","fill":{"gradient":"linear","x1":0,"y1":0,"x2":0,"y2":1,"stops":[{"offset":0,"color":"#032c58"},{"offset":0.3,"color":"#02264a"},{"offset":0.55,"color":"#021a33"},{"offset":0.75,"color":"#010c1c"},{"offset":0.92,"color":"#000000"},{"offset":1,"color":"#000000"}]}},"encoding":{"x":{"field":"x","type":"quantitative","scale":{"domain":[0,1917],"nice":false},"axis":null},"x2":{"field":"x2"},"y":{"field":"y","type":"quantitative","scale":{"domain":[0,843],"nice":false,"reverse":true},"axis":null},"y2":{"field":"y2"}}},
{"data":{"name":"traces"},"mark":{"type":"rule","stroke":"#66105f","strokeWidth":2.5,"strokeDash":[7,7],"opacity":0.75},"encoding":{"x":{"field":"x","type":"quantitative"},"x2":{"field":"x2"},"y":{"field":"y","type":"quantitative"},"y2":{"field":"y2"}}},
{"data":{"name":"plunge"},"mark":{"type":"line","stroke":"#8a1088","strokeWidth":6,"strokeDash":[24,20],"opacity":0.95},"encoding":{"x":{"field":"x","type":"quantitative"},"y":{"field":"y","type":"quantitative"},"detail":{"field":"side"},"order":{"field":"seq","type":"quantitative"}}},
{"data":{"name":"discs"},"mark":{"type":"point","filled":true,"opacity":0.95},"encoding":{"x":{"field":"x","type":"quantitative"},"y":{"field":"y","type":"quantitative"},"size":{"field":"len","type":"quantitative","scale":{"type":"pow","exponent":2,"domain":[0,150],"range":[0,22500]},"legend":null},"angle":{"field":"tilt","type":"quantitative","scale":null},"shape":{"field":"form","type":"nominal","legend":null,"scale":{"domain":["hair","thin","flat","wide","round"],"range":["M-1,0C-1,-0.0276,-0.5523,-0.05,0,-0.05C0.5523,-0.05,1,-0.0276,1,0C1,0.0276,0.5523,0.05,0,0.05C-0.5523,0.05,-1,0.0276,-1,0Z","M-1,0C-1,-0.0663,-0.5523,-0.12,0,-0.12C0.5523,-0.12,1,-0.0663,1,0C1,0.0663,0.5523,0.12,0,0.12C-0.5523,0.12,-1,0.0663,-1,0Z","M-1,0C-1,-0.1215,-0.5523,-0.22,0,-0.22C0.5523,-0.22,1,-0.1215,1,0C1,0.1215,0.5523,0.22,0,0.22C-0.5523,0.22,-1,0.1215,-1,0Z","M-1,0C-1,-0.1823,-0.5523,-0.33,0,-0.33C0.5523,-0.33,1,-0.1823,1,0C1,0.1823,0.5523,0.33,0,0.33C-0.5523,0.33,-1,0.1823,-1,0Z","M-1,0C-1,-0.3866,-0.5523,-0.7,0,-0.7C0.5523,-0.7,1,-0.3866,1,0C1,0.3866,0.5523,0.7,0,0.7C-0.5523,0.7,-1,0.3866,-1,0Z"]}},"color":{"field":"tone","type":"nominal","legend":null,"scale":{"domain":["dark","maroon","purple","magenta","hot","red","olive"],"range":["#5d0d60","#5c0848","#80107f","#a5149f","#c910a5","#c8103c","#a8a312"]}}}},
{"data":{"name":"ticks"},"mark":{"type":"point","filled":true,"shape":"M-0.19,-1L0.19,-1L0.19,1L-0.19,1Z","size":60,"angle":-28,"opacity":0.85},"encoding":{"x":{"field":"x","type":"quantitative"},"y":{"field":"y","type":"quantitative"},"color":{"field":"g","type":"nominal","scale":{"domain":["[0.1,0.2]","[0.2,0.3]","[0.3,0.5]","[0.5,1]","[1,2]","[2,3]","[3,6]","[6,10]","[10,15]","[15,31.1]","[31.1,9999]"],"range":["#0000ff","#00ffff","#00ff00","#ffff00","#ff9933","#ff0000","#ff00ff","#b000b0","#800080","#800080","#800080"]},"legend":{"title":"g/t","titleOrient":"right","titleAnchor":"middle","titleBaseline":"bottom","titlePadding":-18,"titleFontSize":16,"titleFontWeight":"bold","titleColor":"#555555","titleFont":"Liberation Sans","orient":"none","legendX":1739,"legendY":514,"zindex":1,"fillColor":"white","strokeColor":"#cccccc","padding":4,"symbolType":"square","symbolSize":400,"symbolStrokeWidth":0,"symbolOpacity":1,"rowPadding":6.7,"labelFontSize":17,"labelColor":"#555555","labelFont":"Liberation Sans","labelOffset":12,"labelOverlap":false,"values":["[0.1,0.2]","[0.2,0.3]","[0.3,0.5]","[0.5,1]","[1,2]","[2,3]","[3,6]","[6,10]","[10,15]","[15,31.1]","[31.1,9999]"]}}}},
{"data":{"values":[{"x":428,"y":657,"x2":972,"y2":337}]},"mark":{"type":"rule","stroke":"#eadff2","strokeWidth":2.5},"encoding":{"x":{"field":"x","type":"quantitative"},"x2":{"field":"x2"},"y":{"field":"y","type":"quantitative"},"y2":{"field":"y2"}}},
{"data":{"values":[{"x":433,"y":654,"dir":239},{"x":967,"y":340,"dir":59}]},"mark":{"type":"point","filled":true,"shape":"triangle-up","size":260,"color":"white","opacity":1},"encoding":{"x":{"field":"x","type":"quantitative"},"y":{"field":"y","type":"quantitative"},"angle":{"field":"dir","type":"quantitative","scale":null}}},
{"data":{"name":"tailsH"},"mark":{"type":"area","orient":"horizontal","color":"white","opacity":1},"encoding":{"y":{"field":"y","type":"quantitative"},"x":{"field":"x","type":"quantitative"},"x2":{"field":"x2"},"detail":{"field":"t"}}},
{"data":{"name":"tailsV"},"mark":{"type":"area","orient":"vertical","color":"white","opacity":1},"encoding":{"x":{"field":"x","type":"quantitative"},"y":{"field":"y","type":"quantitative"},"y2":{"field":"y2"}}},
{"data":{"name":"boxes"},"mark":{"type":"rect","color":"white","cornerRadius":16,"opacity":1},"encoding":{"x":{"field":"x","type":"quantitative"},"x2":{"field":"x2"},"y":{"field":"y","type":"quantitative"},"y2":{"field":"y2"}}},
{"data":{"name":"calloutText"},"mark":{"type":"text","font":"Liberation Sans","fontWeight":"bold","fontSize":26,"color":"#1a1a1a","align":"center","baseline":"middle"},"encoding":{"x":{"field":"x","type":"quantitative"},"y":{"field":"y","type":"quantitative"},"text":{"field":"t"}}},
{"data":{"name":"levelTicks"},"mark":{"type":"rule","stroke":"#d5dbe3","strokeWidth":1.5},"encoding":{"x":{"field":"x","type":"quantitative"},"x2":{"field":"x2"},"y":{"field":"y","type":"quantitative"}}},
{"data":{"name":"levels"},"mark":{"type":"text","font":"Liberation Sans","fontWeight":"bold","fontSize":15,"color":"#d5dbe3","align":"left","baseline":"middle"},"encoding":{"x":{"field":"x","type":"quantitative"},"y":{"field":"y","type":"quantitative"},"text":{"field":"t"}}},
{"data":{"values":[{"x":24,"y":32,"t":"N"},{"x":1905,"y":24,"t":"S"}]},"mark":{"type":"text","font":"Liberation Sans","fontSize":18,"color":"#b7c4d3","align":"center","baseline":"middle"},"encoding":{"x":{"field":"x","type":"quantitative"},"y":{"field":"y","type":"quantitative"},"text":{"field":"t"}}},
{"data":{"values":[{"x":1158,"y":362,"t":"Sparse drilling into these structures/mineralisation plunge"}]},"mark":{"type":"text","font":"Open Sans","fontSize":24.5,"angle":-30,"color":"#c5cfdc","align":"center","baseline":"middle"},"encoding":{"x":{"field":"x","type":"quantitative"},"y":{"field":"y","type":"quantitative"},"text":{"field":"t"}}},
{"data":{"values":[{"x":767,"y":470,"t":"~200m"}]},"mark":{"type":"text","font":"Open Sans","fontSize":15,"fontWeight":"bold","angle":-35,"color":"#dfe5ee","align":"center","baseline":"middle"},"encoding":{"x":{"field":"x","type":"quantitative"},"y":{"field":"y","type":"quantitative"},"text":{"field":"t"}}},
{"data":{"values":[{"x":22,"x2":98,"y":757,"c":"Y"}]},"mark":{"type":"rule","stroke":"#22cc33","strokeWidth":2},"encoding":{"x":{"field":"x","type":"quantitative"},"x2":{"field":"x2"},"y":{"field":"y","type":"quantitative"}}},
{"data":{"values":[{"x":98,"y":708,"y2":757,"c":"Z"}]},"mark":{"type":"rule","stroke":"#1020a0","strokeWidth":2},"encoding":{"x":{"field":"x","type":"quantitative"},"y":{"field":"y","type":"quantitative"},"y2":{"field":"y2"}}},
{"data":{"values":[{"x":31,"y":757,"dir":-90}]},"mark":{"type":"point","filled":true,"shape":"triangle-up","size":130,"color":"#22ee33","opacity":1},"encoding":{"x":{"field":"x","type":"quantitative"},"y":{"field":"y","type":"quantitative"},"angle":{"field":"dir","type":"quantitative","scale":null}}},
{"data":{"values":[{"x":84,"y":751,"t":"X","c":"#c01818"},{"x":25,"y":750,"t":"Y","c":"#22cc33"}]},"mark":{"type":"text","font":"Liberation Sans","fontSize":12,"align":"center","baseline":"middle"},"encoding":{"x":{"field":"x","type":"quantitative"},"y":{"field":"y","type":"quantitative"},"text":{"field":"t"},"color":{"field":"c","type":"nominal","scale":null,"legend":null}}},
{"data":{"name":"notes"},"mark":{"type":"text","font":"Liberation Sans","fontSize":18,"color":"#d4d4d4","align":"left","baseline":"middle"},"encoding":{"x":{"field":"x","type":"quantitative"},"y":{"field":"y","type":"quantitative"},"text":{"field":"t"}}},
{"data":{"values":[{"x":1881,"y":648,"t":"Au","c":"#566a88"}]},"mark":{"type":"text","font":"Liberation Sans","fontSize":16,"fontWeight":"bold","align":"left","baseline":"middle"},"encoding":{"x":{"field":"x","type":"quantitative"},"y":{"field":"y","type":"quantitative"},"text":{"field":"t"},"color":{"field":"c","type":"nominal","scale":null,"legend":null}}}
],
"resolve":{"scale":{"color":"independent"}}}
